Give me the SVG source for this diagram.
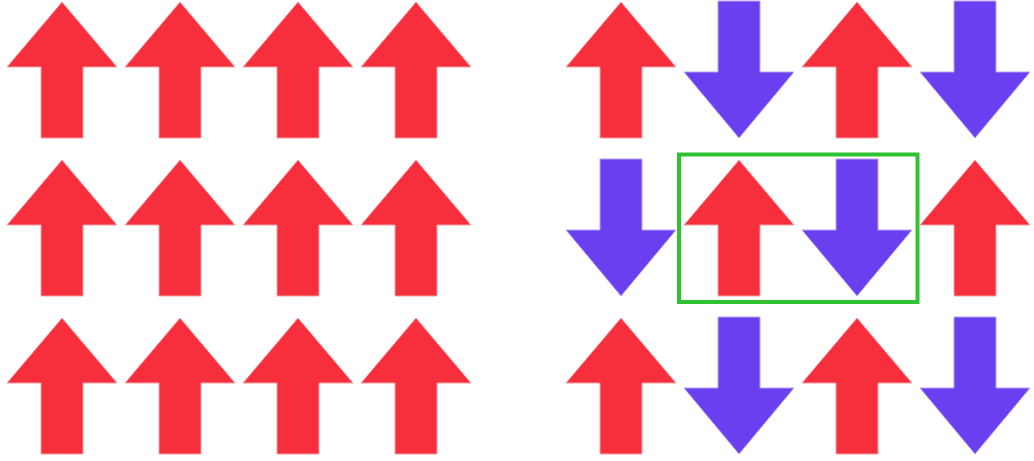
<svg xmlns="http://www.w3.org/2000/svg" xmlns:xlink="http://www.w3.org/1999/xlink" width="1034" height="461" viewBox="0 0 1034 461">
<style>
.up{fill:#f72f3c;stroke:#f9a0a6;stroke-width:1}
.dn{fill:#6a3ff0;stroke:#b7a2f6;stroke-width:1}
.box{fill:none;stroke:#2fc232;stroke-width:4}
</style>
<defs>
<polygon id="upA" class="up" points="0,2 55,67 21,67 21,138 -21,138 -21,67 -55,67"/>
<polygon id="dnA" class="dn" points="-21,1 21,1 21,72 55,72 0,138 -55,72 -21,72"/>
</defs>
<rect width="1034" height="461" fill="#ffffff"/>
<g id="left-grid">
<g id="L11"><use href="#upA" x="62" y="0"/></g>
<g id="L12"><use href="#upA" x="180" y="0"/></g>
<g id="L13"><use href="#upA" x="298" y="0"/></g>
<g id="L14"><use href="#upA" x="416" y="0"/></g>
<g id="L21"><use href="#upA" x="62" y="158"/></g>
<g id="L22"><use href="#upA" x="180" y="158"/></g>
<g id="L23"><use href="#upA" x="298" y="158"/></g>
<g id="L24"><use href="#upA" x="416" y="158"/></g>
<g id="L31"><use href="#upA" x="62" y="316"/></g>
<g id="L32"><use href="#upA" x="180" y="316"/></g>
<g id="L33"><use href="#upA" x="298" y="316"/></g>
<g id="L34"><use href="#upA" x="416" y="316"/></g>
</g>
<g id="right-grid">
<g id="R11"><use href="#upA" x="621" y="0"/></g>
<g id="R12"><use href="#dnA" x="739" y="0"/></g>
<g id="R13"><use href="#upA" x="857" y="0"/></g>
<g id="R14"><use href="#dnA" x="975" y="0"/></g>
<g id="R21"><use href="#dnA" x="621" y="158"/></g>
<g id="R22"><use href="#upA" x="739" y="158"/></g>
<g id="R23"><use href="#dnA" x="857" y="158"/></g>
<g id="R24"><use href="#upA" x="975" y="158"/></g>
<g id="R31"><use href="#upA" x="621" y="316"/></g>
<g id="R32"><use href="#dnA" x="739" y="316"/></g>
<g id="R33"><use href="#upA" x="857" y="316"/></g>
<g id="R34"><use href="#dnA" x="975" y="316"/></g>
</g>
<g id="highlight">
<rect class="box" x="679" y="154.5" width="238.5" height="147.5"/>
</g>
</svg>
